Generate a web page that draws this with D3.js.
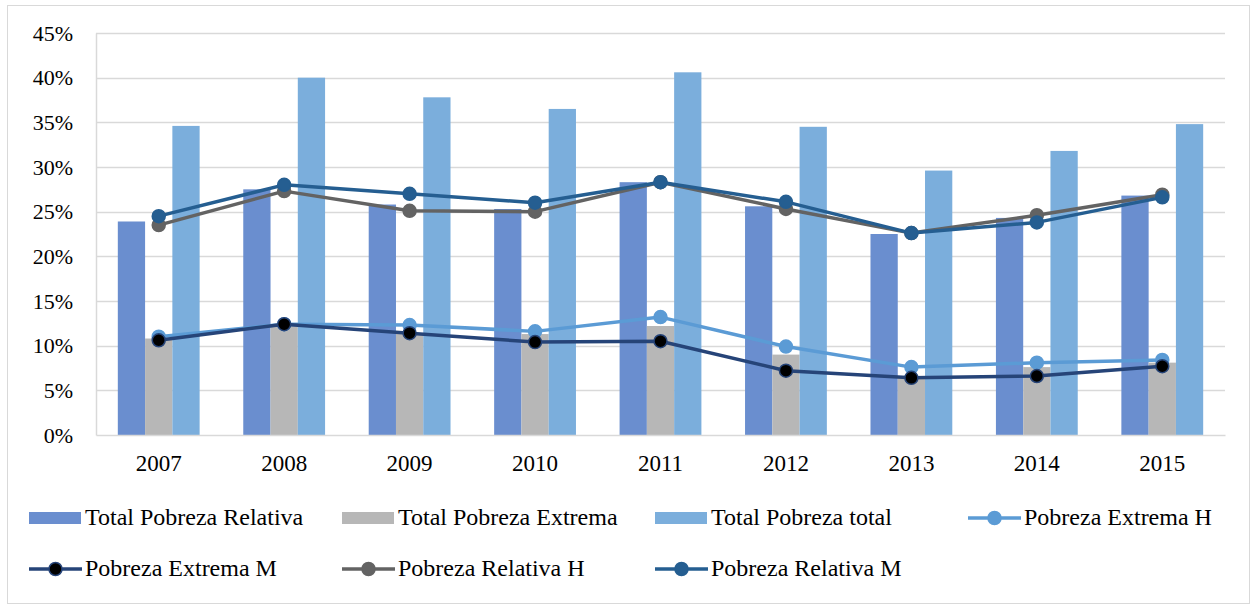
<!DOCTYPE html>
<html>
<head>
<meta charset="utf-8">
<script src="https://cdn.jsdelivr.net/npm/d3@7"></script>
<style>
	body { margin: 0; background: #fff; }
</style>
</head>
<body>
<div id="chart"></div>
<script>

const years = [ "2007", "2008", "2009", "2010", "2011", "2012", "2013", "2014", "2015" ];

const relativaTotal = [ 23.9, 27.5, 25.8, 25.3, 28.3, 25.6, 22.5, 24.3, 26.8 ];
const extremaTotal  = [ 10.8, 12.2, 11.4, 11.3, 12.2, 9.0, 6.5, 7.6, 8.1 ];
const pobrezaTotal  = [ 34.6, 40.0, 37.8, 36.5, 40.6, 34.5, 29.6, 31.8, 34.8 ];

const extremaH  = [ 11.0, 12.4, 12.3, 11.6, 13.2, 9.9, 7.6, 8.1, 8.4 ];
const extremaM  = [ 10.6, 12.4, 11.4, 10.4, 10.5, 7.2, 6.4, 6.6, 7.7 ];
const relativaH = [ 23.5, 27.3, 25.1, 25.0, 28.3, 25.3, 22.6, 24.6, 26.9 ];
const relativaM = [ 24.5, 28.0, 27.0, 26.0, 28.3, 26.1, 22.6, 23.8, 26.6 ];

const yTicks = [ 0, 5, 10, 15, 20, 25, 30, 35, 40, 45 ];

const barSeries = [
	{ name: "Total Pobreza Relativa", values: relativaTotal, color: "#6A8ECF" },
	{ name: "Total Pobreza Extrema", values: extremaTotal, color: "#B7B7B7" },
	{ name: "Total Pobreza total", values: pobrezaTotal, color: "#7BAEDC" }
];

const lineSeries = [
	{ name: "Pobreza Extrema H", values: extremaH, color: "#5B9BD5", marker: "#5B9BD5" },
	{ name: "Pobreza Extrema M", values: extremaM, color: "#264478", marker: "#000000" },
	{ name: "Pobreza Relativa H", values: relativaH, color: "#636363", marker: "#636363" },
	{ name: "Pobreza Relativa M", values: relativaM, color: "#255E91", marker: "#255E91" }
];

///////////////////////////////////////////////////////////////////////

const FONT = "'Liberation Serif', 'Times New Roman', 'DejaVu Serif', serif";
const width = 1255, height = 605;
const plot = { left: 96, right: 1225, top: 33, bottom: 435 };

let svg = d3.select( "#chart" )
	.append( "svg" )
		.attr( "width", width )
		.attr( "height", height );

svg.append( "rect" )
	.attr( "x", 7.5 ).attr( "y", 5.5 )
	.attr( "width", 1242 ).attr( "height", 598 )
	.attr( "fill", "#fff" )
	.attr( "stroke", "#D9D9D9" );

let x = d3.scaleBand()
	.domain( years )
	.range( [ plot.left, plot.right ] );

let xInner = d3.scaleBand()
	.domain( barSeries.map( d => d.name ) )
	.range( [ 0, x.bandwidth() ] )
	.paddingOuter( 0.8 );

let y = d3.scaleLinear()
	.domain( [ 0, 45 ] )
	.range( [ plot.bottom, plot.top ] );

// grid
svg.append( "g" )
	.selectAll( "line" )
	.data( yTicks.filter( t => t > 0 ) )
	.join( "line" )
		.attr( "x1", plot.left ).attr( "x2", plot.right )
		.attr( "y1", d => Math.round( y( d ) ) + 0.5 )
		.attr( "y2", d => Math.round( y( d ) ) + 0.5 )
		.attr( "stroke", "#D9D9D9" )
		.attr( "stroke-width", 1.5 );

// y axis
let yAxis = svg.append( "g" )
	.attr( "transform", `translate(${ plot.left },0)` )
	.call( d3.axisLeft( y ).tickValues( yTicks ).tickSize( 0 ).tickPadding( 23 ).tickFormat( d => d + "%" ) );
yAxis.select( ".domain" ).attr( "stroke", "#D9D9D9" ).attr( "stroke-width", 1.5 );
yAxis.attr( "font-family", null ).attr( "font-size", null );
yAxis.selectAll( "text" )
	.style( "font-family", FONT )
	.style( "font-size", "22px" )
	.attr( "fill", "#000" );

// bars
barSeries.forEach( s => {
	svg.append( "g" )
		.selectAll( "rect" )
		.data( years )
		.join( "rect" )
			.attr( "x", ( d, i ) => x( d ) + xInner( s.name ) )
			.attr( "width", xInner.bandwidth() )
			.attr( "y", ( d, i ) => y( s.values[ i ] ) )
			.attr( "height", ( d, i ) => y( 0 ) - y( s.values[ i ] ) )
			.attr( "fill", s.color );
} );

// x axis
let xAxis = svg.append( "g" )
	.attr( "transform", `translate(0,${ plot.bottom })` )
	.call( d3.axisBottom( x ).tickSize( 0 ).tickPadding( 20 ) );
xAxis.select( ".domain" ).attr( "stroke", "#D9D9D9" ).attr( "stroke-width", 1.5 );
xAxis.attr( "font-family", null ).attr( "font-size", null );
xAxis.selectAll( "text" )
	.style( "font-family", FONT )
	.style( "font-size", "23px" )
	.attr( "fill", "#000" );

// lines
let line = d3.line()
	.x( ( d, i ) => x( years[ i ] ) + x.bandwidth() / 2 )
	.y( d => y( d ) );

lineSeries.forEach( s => {
	let g = svg.append( "g" );
	g.append( "path" )
		.datum( s.values )
		.attr( "d", line )
		.attr( "fill", "none" )
		.attr( "stroke", s.color )
		.attr( "stroke-width", 3.5 )
		.attr( "stroke-linejoin", "round" );
	g.selectAll( "circle" )
		.data( s.values )
		.join( "circle" )
			.attr( "cx", ( d, i ) => x( years[ i ] ) + x.bandwidth() / 2 )
			.attr( "cy", d => y( d ) )
			.attr( "r", 6.5 )
			.attr( "fill", s.marker )
			.attr( "stroke", s.color )
			.attr( "stroke-width", 1.5 );
} );

// legend
const legendCols = [ 29, 342, 655, 968 ];
const legendRows = [ 518, 569 ];
let legendItems = barSeries.map( s => ( { type: "bar", ...s } ) )
	.concat( lineSeries.map( s => ( { type: "line", ...s } ) ) );

let legend = svg.append( "g" )
	.selectAll( "g" )
	.data( legendItems )
	.join( "g" )
		.attr( "transform", ( d, i ) => `translate(${ legendCols[ i % 4 ] },${ legendRows[ Math.floor( i / 4 ) ] })` );

legend.filter( d => d.type === "bar" )
	.append( "rect" )
		.attr( "x", 0 ).attr( "y", -6 )
		.attr( "width", 52 ).attr( "height", 12 )
		.attr( "fill", d => d.color );

legend.filter( d => d.type === "line" )
	.append( "line" )
		.attr( "x1", 0 ).attr( "x2", 53 )
		.attr( "stroke", d => d.color )
		.attr( "stroke-width", 3.5 );

legend.filter( d => d.type === "line" )
	.append( "circle" )
		.attr( "cx", 26.5 )
		.attr( "r", 6.5 )
		.attr( "fill", d => d.marker )
		.attr( "stroke", d => d.color )
		.attr( "stroke-width", 1.5 );

legend.append( "text" )
	.attr( "x", 56 )
	.attr( "y", 7 )
	.style( "font-family", FONT )
	.style( "font-size", "24px" )
	.attr( "fill", "#000" )
	.text( d => d.name );

</script>
</body>
</html>
